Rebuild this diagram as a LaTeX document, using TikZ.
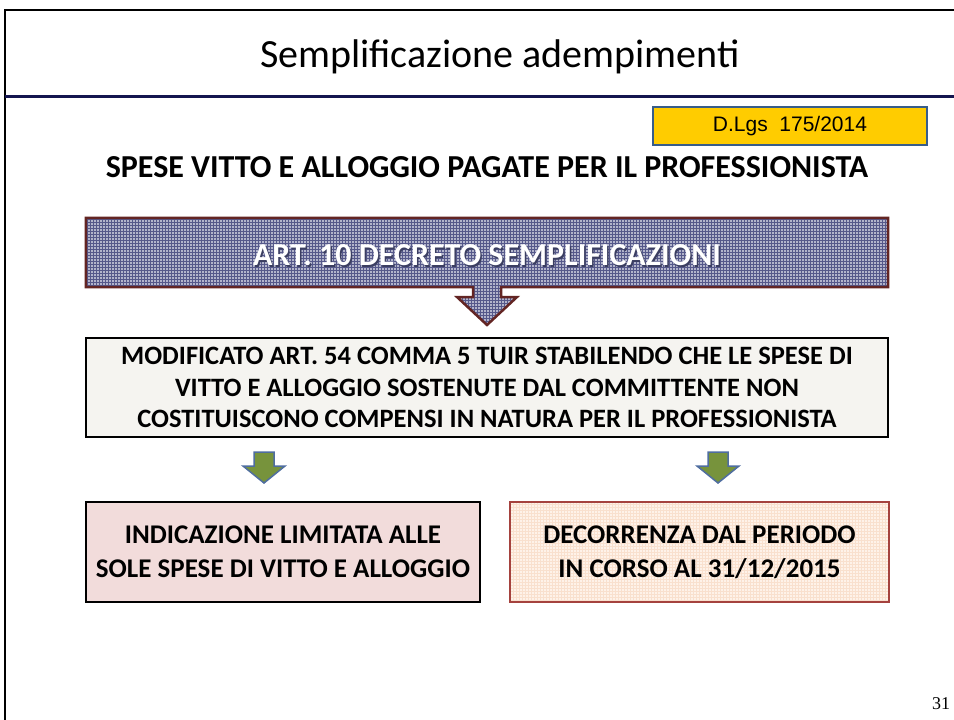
\documentclass[tikz,border=0pt]{standalone}
\usepackage{fontspec}
\setmainfont{Carlito}
\newfontfamily\arialfont{Liberation Sans}
\newfontfamily\timesfont{Liberation Serif}
\usetikzlibrary{patterns, calc, positioning}
\definecolor{navyline}{HTML}{14154F}
\definecolor{lawfill}{HTML}{FFCC00}
\definecolor{lawdraw}{HTML}{385D8A}
\definecolor{bannerfill}{HTML}{B2B4CB}
\definecolor{bannergrid}{HTML}{55588A}
\definecolor{bannerdraw}{HTML}{632523}
\definecolor{midfill}{HTML}{F5F4F0}
\definecolor{arrowgreen}{HTML}{77933C}
\definecolor{arrowblue}{HTML}{4F6DA0}
\definecolor{pinkfill}{HTML}{F2DCDB}
\definecolor{peachfill}{HTML}{FDEADA}
\definecolor{peachgrid}{HTML}{F3D3BE}
\definecolor{peachdraw}{HTML}{A5423E}

\begin{document}
\begin{tikzpicture}[x=1pt, y=-1pt,
  txtbox/.style={line width=2pt, align=center, inner sep=0pt,
    font=\fontsize{26.5}{31.5}\selectfont\bfseries},
  greenarrow/.style={fill=arrowgreen, draw=arrowblue, line width=1.5pt}]
\useasboundingbox (0,0) rectangle (954,720);
% slide frame and title
\draw[line width=1.5pt] (5,720) -- (5,10) -- (954,10);
\draw[navyline, line width=3pt] (5,96) -- (954,96);
\node (title) at (500,57) {\fontsize{40}{48}\selectfont Semplificazione adempimenti};
\node[draw=lawdraw, fill=lawfill, line width=2pt, minimum width=274, minimum height=38,
  font=\arialfont\fontsize{21}{24}\selectfont] (law) at (790,126) {D.Lgs\ \ 175/2014};
\node[font=\fontsize{32}{36}\selectfont\bfseries] (heading) at (487,167)
  {SPESE VITTO E ALLOGGIO PAGATE PER IL PROFESSIONISTA};
% banner with its arrow
\node[minimum width=802, minimum height=69, inner sep=0pt] (banner) at (487,252.5) {};
\path[fill=bannerfill] (banner.north west) -- (banner.north east) -- (banner.south east)
  -- (501,287) -- (501,297) -- (517,297) -- (487,325) -- (457,297) -- (473,297) -- (473,287)
  -- (banner.south west) -- cycle;
\path[pattern=grid, pattern color=bannergrid] (banner.north west) -- (banner.north east)
  -- (banner.south east) -- (501,287) -- (501,297) -- (517,297) -- (487,325) -- (457,297)
  -- (473,297) -- (473,287) -- (banner.south west) -- cycle;
\draw[bannerdraw, line width=2.5pt, line join=miter] (banner.north west) -- (banner.north east)
  -- (banner.south east) -- (501,287) -- (501,297) -- (517,297) -- (487,325) -- (457,297)
  -- (473,297) -- (473,287) -- (banner.south west) -- cycle;
\node[font=\fontsize{32}{36}\selectfont\bfseries, text=bannergrid!70!black] at ($(banner.center)+(1.5,4.5)$)
  {ART. 10 DECRETO SEMPLIFICAZIONI};
\node[font=\fontsize{32}{36}\selectfont\bfseries, text=white] (bannertext) at ($(banner.center)+(0,3)$)
  {ART. 10 DECRETO SEMPLIFICAZIONI};
% central statement
\node[txtbox, draw=black, fill=midfill, minimum width=802, minimum height=99] (statement) at (487,387.5)
  {MODIFICATO ART. 54 COMMA 5 TUIR STABILENDO CHE LE SPESE DI\\
   VITTO E ALLOGGIO SOSTENUTE DAL COMMITTENTE NON\\
   COSTITUISCONO COMPENSI IN NATURA PER IL PROFESSIONISTA};
% green arrows
\foreach \x in {264,718}{
  \draw[greenarrow] (\x-10,452) -- (\x+10,452) -- (\x+10,466) -- (\x+21,466) -- (\x,483)
    -- (\x-21,466) -- (\x-10,466) -- cycle;
}
% the two outcomes
\node[txtbox, draw=black, fill=pinkfill, minimum width=394, minimum height=100,
  font=\fontsize{27}{34}\selectfont\bfseries] (limit) at (283,552)
  {INDICAZIONE LIMITATA ALLE\\ SOLE SPESE DI VITTO E ALLOGGIO};
\path[pattern=grid, pattern color=peachgrid] (510,502) rectangle (889,602);
\node[txtbox, draw=peachdraw, fill=peachfill, fill opacity=0.6, text opacity=1,
  minimum width=379, minimum height=100,
  font=\fontsize{27}{34}\selectfont\bfseries] (start) at (699.5,552)
  {DECORRENZA DAL PERIODO\\ IN CORSO AL 31/12/2015};
\node[font=\timesfont\fontsize{18}{20}\selectfont] (page) at (941,704) {31};
\end{tikzpicture}
\end{document}
